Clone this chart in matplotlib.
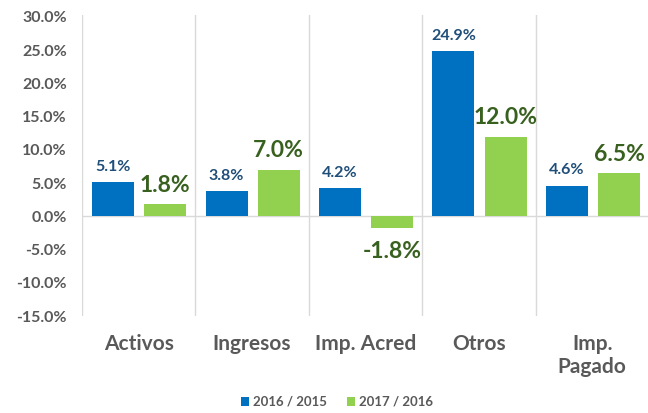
import matplotlib
import matplotlib.pyplot as plt
import numpy as np

plt.switch_backend('agg')
plt.rcParams['font.family'] = ['Lato', 'DejaVu Sans']

categories = ['Activos', 'Ingresos', 'Imp. Acred', 'Otros', 'Imp.\nPagado']
serie_1615 = [5.1, 3.8, 4.2, 24.9, 4.6]
serie_1716 = [1.8, 7.0, -1.8, 12.0, 6.5]
legend_labels = ['2016 / 2015', '2017 / 2016']
yticks = [30, 25, 20, 15, 10, 5, 0, -5, -10, -15]

blue = '#0070C0'
green = '#92D050'

fig = plt.figure(figsize=(6.48, 4.13), dpi=100)
ax = fig.add_axes([82/648, 1-316/413, 567/648, 301/413])

x = np.arange(len(categories))
w = 0.37
b1 = ax.bar(x - 0.225, serie_1615, w, color=blue, label=legend_labels[0])
b2 = ax.bar(x + 0.235, serie_1716, w, color=green, label=legend_labels[1])

for xi, v in zip(x - 0.225, serie_1615):
    ax.annotate('%.1f%%' % v, (xi, v), xytext=(0, 6), textcoords='offset points',
                ha='center', va='bottom', fontsize=11.5, fontweight='bold', color='#1F4E79')
for xi, v in zip(x + 0.235, serie_1716):
    off = 6 if v >= 0 else -9
    ax.annotate('%.1f%%' % v, (xi, v), xytext=(0, off), textcoords='offset points',
                ha='center', va='bottom' if v >= 0 else 'top',
                fontsize=16.5, fontweight='bold', color='#38601E')

ax.set_xlim(-0.5, len(categories) - 0.5)
ax.set_ylim(-15, 30.3)
ax.set_yticks(yticks)
ax.set_yticklabels(['%.1f%%' % t for t in yticks])
ax.tick_params(axis='y', length=0, labelsize=11.5, labelcolor='#595959', pad=11)
for lab in ax.get_yticklabels():
    lab.set_fontweight('bold')

ax.set_xticks(x)
ax.set_xticklabels(categories, fontsize=15, fontweight='bold', color='#595959',
                   linespacing=1.2, va='top')
ax.tick_params(axis='x', length=0, pad=13)

for b in np.arange(-0.5, len(categories), 1.0):
    ax.axvline(b, color='#D9D9D9', lw=1, zorder=0)
ax.axhline(0, color='#D9D9D9', lw=1, zorder=0)
for s in ax.spines.values():
    s.set_visible(False)

fig.legend(handles=[b1, b2], labels=legend_labels, loc='center',
           bbox_to_anchor=(337/648, 1-402/413), ncol=2, frameon=False,
           prop={'size': 9.5, 'weight': 'bold'}, labelcolor='#595959',
           handlelength=0.6, handleheight=0.6, handletextpad=0.3, columnspacing=1.5)

plt.savefig('out.png', dpi=100)
